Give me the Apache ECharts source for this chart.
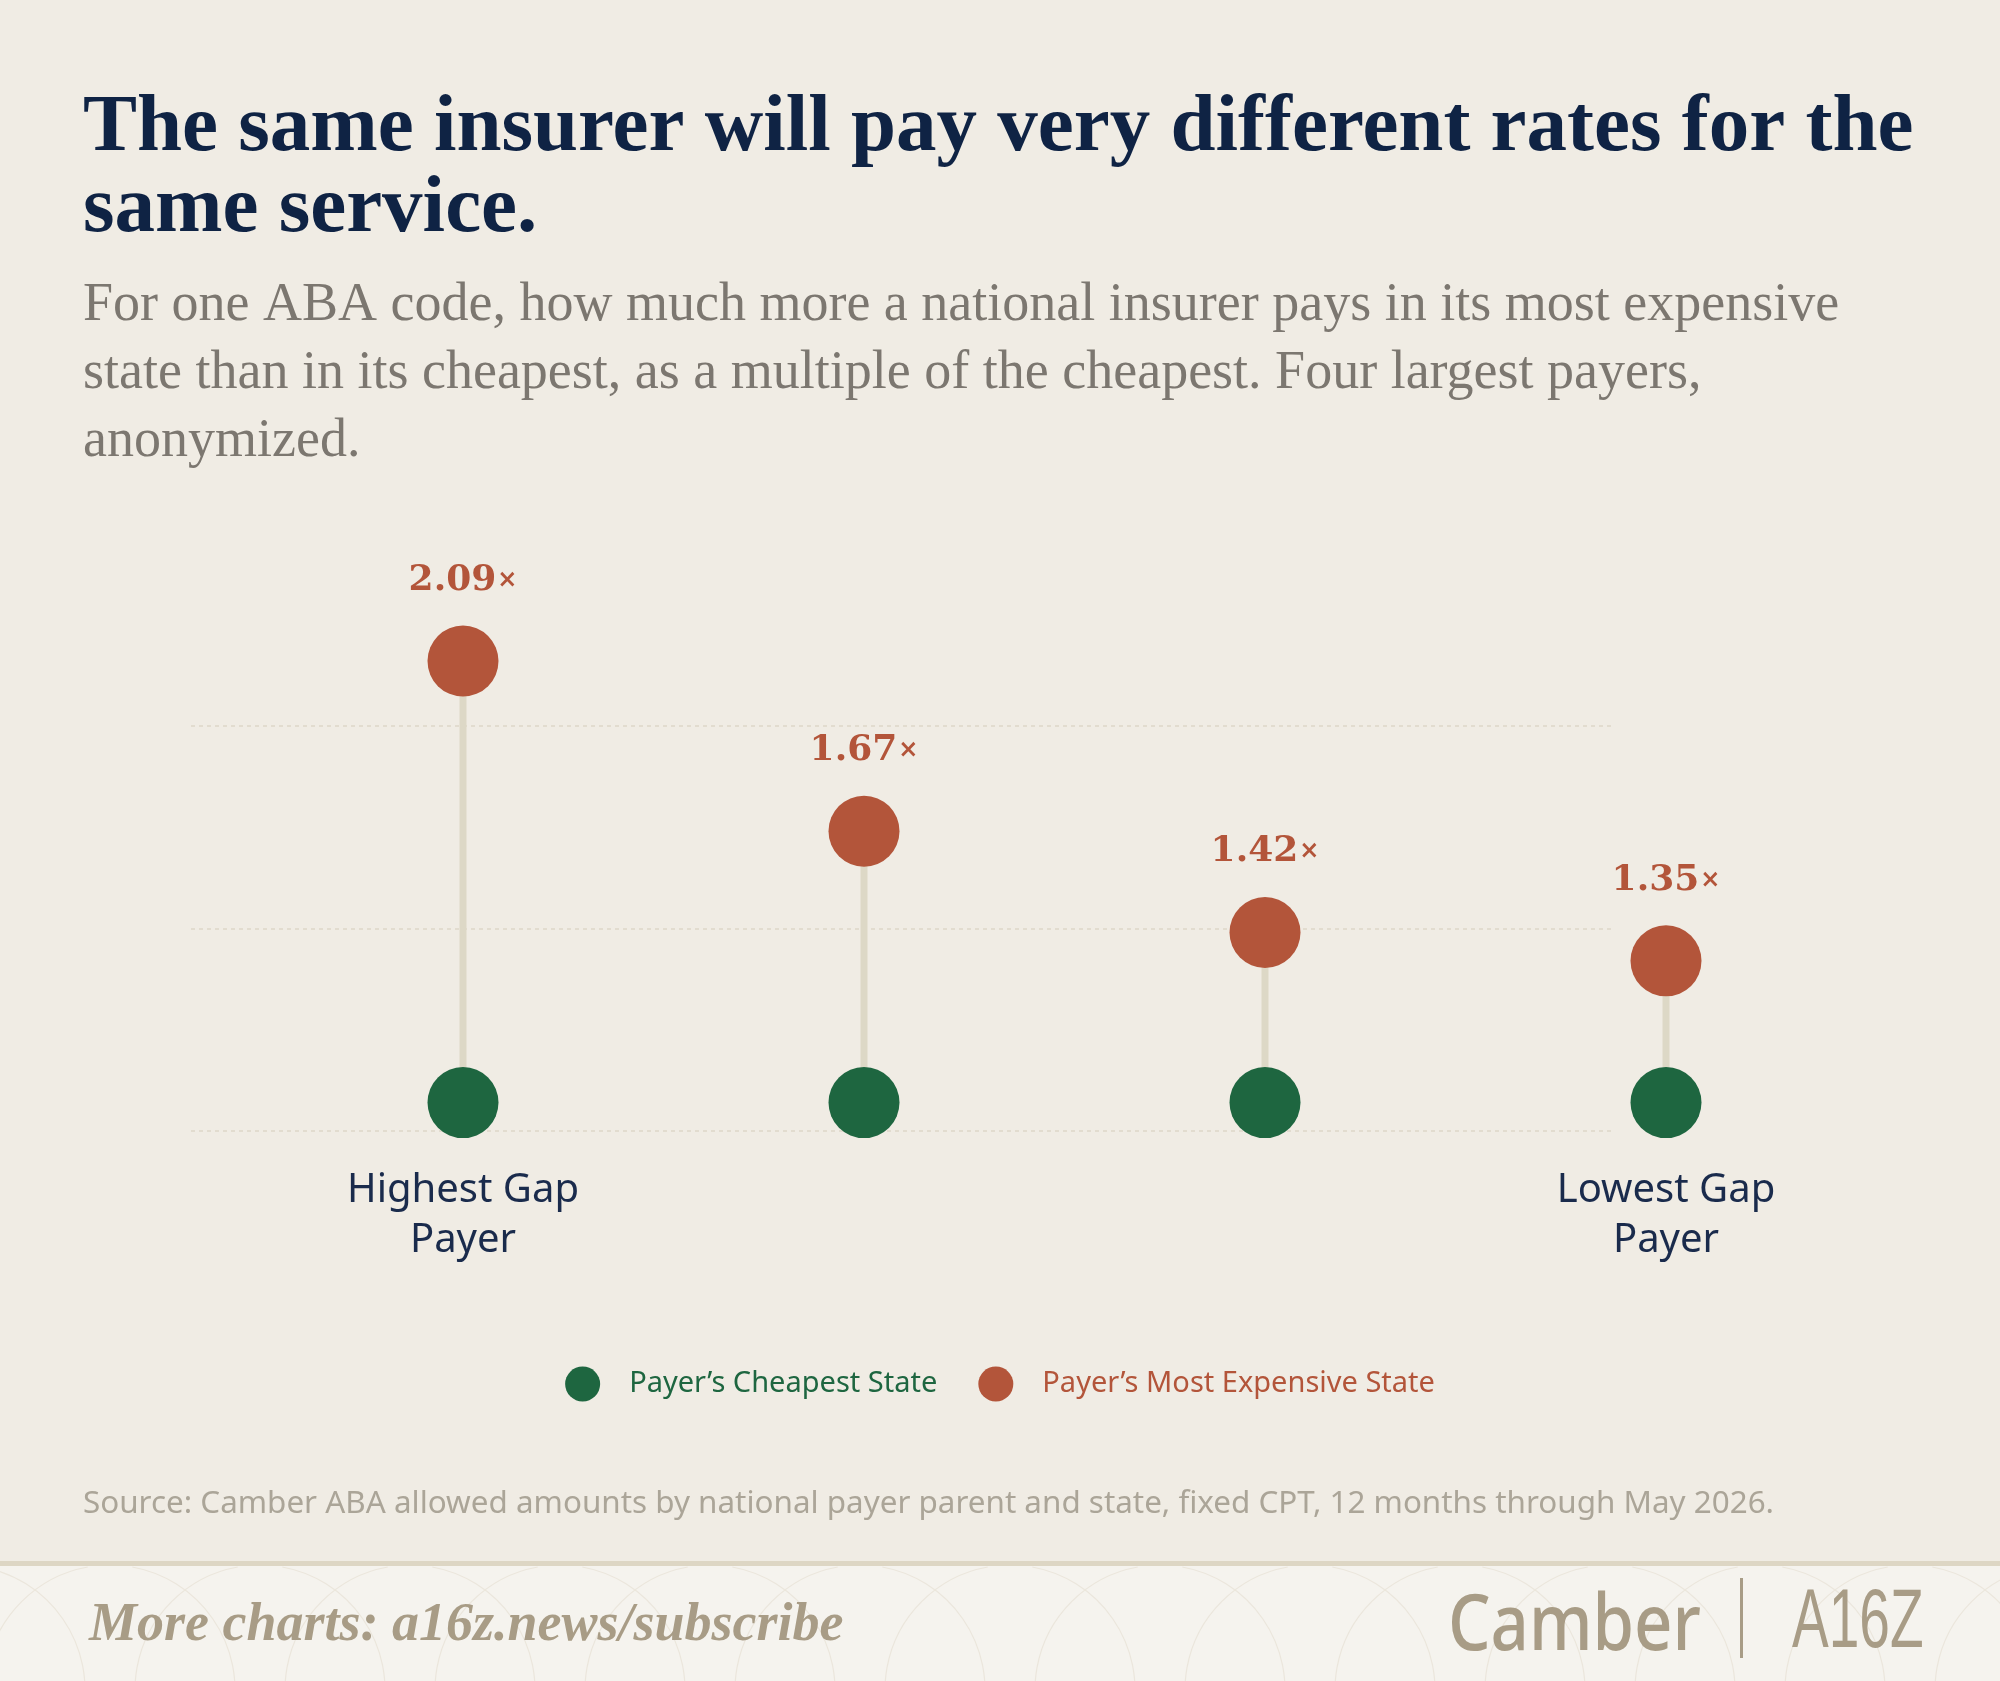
<!DOCTYPE html>
<html>
<head>
<meta charset="utf-8">
<script src="https://cdn.jsdelivr.net/npm/echarts@6/dist/echarts.min.js"></script>
<style>
  html, body { margin: 0; padding: 0; background: #f0ece4; }
  #chart { width: 2000px; height: 1681px; }
</style>
</head>
<body>
<div id="chart"></div>
<script>
// ---- data ----
const categories = ['Payer 1', 'Payer 2', 'Payer 3', 'Payer 4'];
const tickLabels = ['Highest Gap\nPayer', '', '', 'Lowest Gap\nPayer'];
const cheapest = [1, 1, 1, 1];
const mostExpensive = [2.09, 1.67, 1.42, 1.35];
const gridTicks = [0.925, 1.425, 1.925];
const seriesNames = ['Payer’s Cheapest State', 'Payer’s Most Expensive State'];

// ---- styles ----
const GREEN = '#1e6640';
const RED = '#b3553a';
const NAVY = '#0f2344';
const Y_MIN = 0.925, Y_MAX = 2.3;

const chart = echarts.init(document.getElementById('chart'), null, { renderer: 'canvas' });

// faint decorative arcs in the footer band
const footerArcs = [];
for (let cx = -40; cx <= 2100; cx += 150) {
  const cy = 1690, r = 125;
  const s = Math.asin((1567 - cy) / r);
  footerArcs.push({
    type: 'arc', silent: true, z: 1,
    shape: { cx: cx, cy: cy, r: r, startAngle: s, endAngle: Math.PI - s, clockwise: true },
    style: { stroke: '#ebe6dc', lineWidth: 1.2, fill: null }
  });
}

const option = {
  backgroundColor: '#f0ece4',
  animation: false,
  grid: [
    { left: 191, right: 388, top: 576, bottom: 548 },
    { left: 262.5, right: 133.5, top: 576, bottom: 548 }
  ],
  xAxis: [
    { gridIndex: 0, type: 'value', min: 0, max: 1, show: false },
    {
      gridIndex: 1, type: 'category', data: categories, boundaryGap: true,
      axisLine: { show: false }, axisTick: { show: false }, splitLine: { show: false },
      axisLabel: {
        interval: 0, margin: 33, lineHeight: 50, fontSize: 40,
        fontFamily: 'Noto Sans', color: '#1a2b4c',
        formatter: (v, i) => tickLabels[i]
      }
    }
  ],
  yAxis: [
    { gridIndex: 0, type: 'value', min: Y_MIN, max: Y_MAX, show: false, splitLine: { show: false } },
    { gridIndex: 1, type: 'value', min: Y_MIN, max: Y_MAX, show: false, splitLine: { show: false } }
  ],
  legend: {
    left: 'center', top: 1361.5, icon: 'circle',
    itemWidth: 35, itemHeight: 35, itemGap: 41,
    textStyle: { fontFamily: 'Noto Sans', fontSize: 29, padding: [0, 0, 0, 24] },
    data: [
      { name: seriesNames[0], textStyle: { color: GREEN } },
      { name: seriesNames[1], textStyle: { color: RED } }
    ]
  },
  series: [
    {
      type: 'line', xAxisIndex: 0, yAxisIndex: 0, data: [], silent: true, z: 0,
      markLine: {
        silent: true, symbol: 'none', label: { show: false }, z: 0,
        lineStyle: { color: '#ddd6c8', width: 1.5, type: [4, 4] },
        data: gridTicks.map(v => ({ yAxis: v }))
      }
    },
    {
      type: 'custom', xAxisIndex: 1, yAxisIndex: 1, silent: true, z: 1,
      data: categories.map((c, i) => [i, cheapest[i], mostExpensive[i]]),
      renderItem: (params, api) => {
        const a = api.coord([api.value(0), api.value(1)]);
        const b = api.coord([api.value(0), api.value(2)]);
        return {
          type: 'line',
          shape: { x1: a[0], y1: a[1], x2: b[0], y2: b[1] },
          style: { stroke: '#ddd8c6', lineWidth: 7 }
        };
      }
    },
    {
      name: seriesNames[0], type: 'scatter', xAxisIndex: 1, yAxisIndex: 1, z: 3,
      symbol: 'circle', symbolSize: 71, itemStyle: { color: GREEN, opacity: 1 },
      data: cheapest
    },
    {
      name: seriesNames[1], type: 'scatter', xAxisIndex: 1, yAxisIndex: 1, z: 3,
      symbol: 'circle', symbolSize: 71, itemStyle: { color: RED, opacity: 1 },
      data: mostExpensive,
      label: {
        show: true, position: 'top', distance: 27,
        formatter: p => '{v|' + Number(p.value).toFixed(2) + '}{x|×}',
        rich: {
          v: { fontFamily: 'DejaVu Serif', fontWeight: 'bold', fontSize: 36, lineHeight: 36, color: RED, verticalAlign: 'middle' },
          x: { fontFamily: 'DejaVu Sans', fontSize: 24, fontWeight: 'bold', lineHeight: 36, color: RED, verticalAlign: 'middle', padding: [0, 0, 0, 1] }
        }
      }
    }
  ],
  graphic: [
    // title
    { type: 'text', x: 83, y: 129, silent: true,
      style: { text: 'The same insurer will pay very different rates for the', fill: NAVY,
        font: 'bold 81px "Liberation Serif"', align: 'left', verticalAlign: 'middle' } },
    { type: 'text', x: 83, y: 210, silent: true,
      style: { text: 'same service.', fill: NAVY,
        font: 'bold 81px "Liberation Serif"', align: 'left', verticalAlign: 'middle' } },
    // subtitle
    { type: 'text', x: 83, y: 305.5, silent: true,
      style: { text: 'For one ABA code, how much more a national insurer pays in its most expensive', fill: '#7c7770',
        font: '54px "Liberation Serif"', align: 'left', verticalAlign: 'middle' } },
    { type: 'text', x: 83, y: 373.5, silent: true,
      style: { text: 'state than in its cheapest, as a multiple of the cheapest. Four largest payers,', fill: '#7c7770',
        font: '54px "Liberation Serif"', align: 'left', verticalAlign: 'middle' } },
    { type: 'text', x: 83, y: 441.5, silent: true,
      style: { text: 'anonymized.', fill: '#7c7770',
        font: '54px "Liberation Serif"', align: 'left', verticalAlign: 'middle' } },
    // source
    { type: 'text', x: 83, y: 1504, silent: true,
      style: { text: 'Source: Camber ABA allowed amounts by national payer parent and state, fixed CPT, 12 months through May 2026.',
        fill: '#aba598', font: '31.4px "Noto Sans"', align: 'left', verticalAlign: 'middle' } },
    // footer band
    { type: 'rect', silent: true, z: 0, shape: { x: 0, y: 1561, width: 2000, height: 120 }, style: { fill: '#f5f3ee' } },
    ...footerArcs,
    { type: 'rect', silent: true, z: 2, shape: { x: 0, y: 1561, width: 2000, height: 5 }, style: { fill: '#ddd6c4' } },
    { type: 'text', x: 89, y: 1626, silent: true, z: 3,
      style: { text: 'More charts: a16z.news/subscribe', fill: '#a89c86',
        font: 'italic bold 54px "Liberation Serif"', align: 'left', verticalAlign: 'middle' } },
    { type: 'text', x: 1448, y: 1628, scaleX: 0.86, silent: true, z: 3,
      style: { text: 'Camber', fill: '#a89c86',
        font: '500 78px "Noto Sans"', align: 'left', verticalAlign: 'middle' } },
    { type: 'rect', silent: true, z: 3, shape: { x: 1740, y: 1578, width: 3, height: 80 }, style: { fill: '#a89c86' } },
    { type: 'text', x: 1792, y: 1624, scaleX: 0.655, silent: true, z: 3,
      style: { text: 'A16Z', fill: '#a89c86',
        font: '84px "Liberation Sans"', align: 'left', verticalAlign: 'middle' } }
  ]
};

chart.setOption(option);
</script>
</body>
</html>
